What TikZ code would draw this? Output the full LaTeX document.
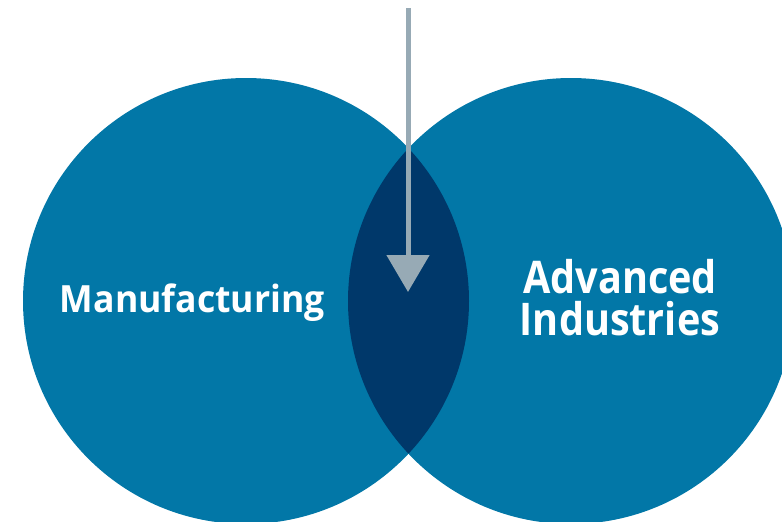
\documentclass[tikz,border=0pt]{standalone}
\usepackage{fontspec}
\setmainfont{Open Sans}
\newfontfamily\lblleft[FakeStretch=0.95]{Open Sans}
\newfontfamily\lblright[FakeStretch=0.88]{Open Sans}
\usetikzlibrary{arrows.meta}
\definecolor{circblue}{HTML}{0277A7}
\definecolor{lensblue}{HTML}{00386A}
\definecolor{arrowgray}{HTML}{97AAB5}
\tikzset{
  venn/.style={circle, fill=circblue, minimum size=446pt, inner sep=0pt},
  lbl/.style={text=white, inner sep=0pt},
}
\begin{document}
\begin{tikzpicture}[x=1pt,y=-1pt]
\useasboundingbox (0,0) rectangle (782,522);
\clip (0,0) rectangle (782,522);
\node[venn] (L) at (246,301) {};
\node[venn] (R) at (571,301) {};
\begin{scope}
  \clip (246,301) circle (223);
  \fill[lensblue] (571,301) circle (223);
\end{scope}
\node[lbl, font=\lblleft\bfseries\fontsize{37.5}{40}\selectfont, anchor=base] (man) at (192.5,312.5) {Manufacturing};
\node[lbl, font=\lblright\bfseries\fontsize{45}{42}\selectfont, align=center, anchor=center] (adv) at (620,298) {Advanced\\Industries};
\coordinate (start) at (408,8);
\coordinate (tip) at (408,292);
\draw[arrowgray, line width=5pt, -{Triangle[width=42pt,length=37pt]}] (start) -- (tip);
\end{tikzpicture}
\end{document}
